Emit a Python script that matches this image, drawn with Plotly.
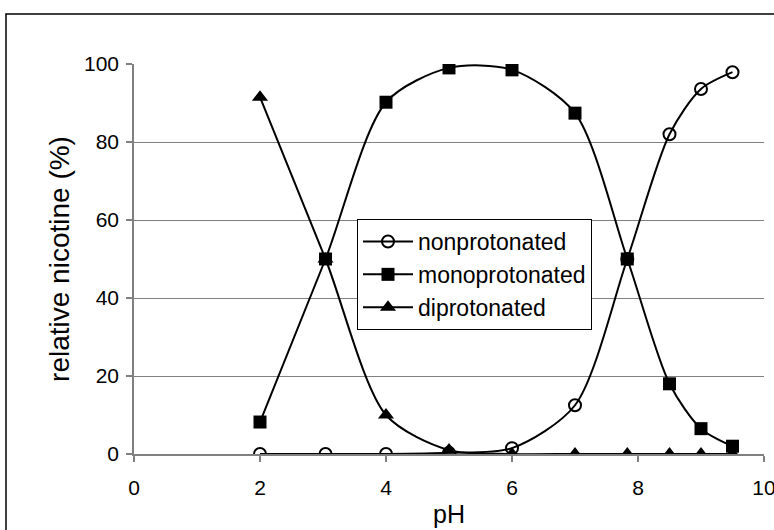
import plotly.graph_objects as go

ph = [2, 3.04, 4, 5, 6, 7, 7.83, 8.5, 9, 9.5]
nonprotonated = [0, 0, 0, 0.3, 1.5, 12.5, 50, 82, 93.6, 97.9]
monoprotonated = [8.2, 50, 90.2, 99, 98.5, 87.4, 50, 18, 6.5, 2]
diprotonated = [91.5, 50, 10, 1, 0, 0, 0, 0, 0, 0]

x_ticks = [0, 2, 4, 6, 8, 10]
y_ticks = [0, 20, 40, 60, 80, 100]

FONT = "Liberation Sans, Arial, sans-serif"

fig = go.Figure()
fig.add_trace(go.Scatter(
    x=ph, y=nonprotonated, name="nonprotonated", mode="lines+markers",
    line=dict(color="black", width=2, shape="spline", smoothing=0.8),
    marker=dict(symbol="circle-open", size=12, color="black", line=dict(width=2, color="black")),
))
fig.add_trace(go.Scatter(
    x=ph, y=monoprotonated, name="monoprotonated", mode="lines+markers",
    line=dict(color="black", width=2, shape="spline", smoothing=0.8),
    marker=dict(symbol="square", size=13, color="black"),
))
fig.add_trace(go.Scatter(
    x=ph, y=diprotonated, name="diprotonated", mode="lines+markers",
    line=dict(color="black", width=2, shape="spline", smoothing=0.8),
    marker=dict(symbol="triangle-up", size=14, color="black"),
))

L, R, T, B = 134, 10, 64, 76
W, H = 774, 530
pw, ph_ = W - L - R, H - T - B

def px_x(p):
    return (p - L) / pw

def px_y(p):
    return (H - B - p) / ph_

fig.update_layout(
    width=W, height=H,
    margin=dict(l=L, r=R, t=T, b=B, pad=0, autoexpand=False),
    paper_bgcolor="white", plot_bgcolor="white",
    font=dict(family=FONT, size=21, color="black"),
    showlegend=True,
    legend=dict(
        x=px_x(357), y=px_y(219), xanchor="left", yanchor="top",
        bgcolor="white", bordercolor="black", borderwidth=1,
        font=dict(family=FONT, size=23, color="black"),
        itemwidth=50, tracegroupgap=0,
    ),
    xaxis=dict(
        range=[0, 10], tickvals=x_ticks, ticktext=[str(v) for v in x_ticks],
        showgrid=False, zeroline=False, automargin=False,
        showline=True, linecolor="#808080", linewidth=1.5,
        ticks="outside", ticklen=6, tickcolor="#808080", tickwidth=1.5,
        ticklabelstandoff=8, ticklabeloverflow="allow",
        title=dict(text="pH", font=dict(size=25), standoff=8),
        tickfont=dict(size=21),
    ),
    yaxis=dict(
        range=[0, 100], tickvals=y_ticks, ticktext=[str(v) for v in y_ticks],
        showgrid=True, gridcolor="#808080", gridwidth=1,
        zeroline=False, automargin=False,
        showline=True, linecolor="#808080", linewidth=1.5,
        ticks="outside", ticklen=6, tickcolor="#808080", tickwidth=1.5,
        ticklabelstandoff=3,
        title=dict(text="relative nicotine (%)", font=dict(size=28), standoff=6),
        tickfont=dict(size=21),
    ),
    shapes=[dict(
        type="rect", xref="paper", yref="paper",
        x0=px_x(6), x1=px_x(790), y0=px_y(545), y1=px_y(14),
        line=dict(color="black", width=1.5), layer="below",
    )],
)

fig.write_html("out.html", config={"displayModeBar": False},
               post_script="document.body.style.margin='0';")
